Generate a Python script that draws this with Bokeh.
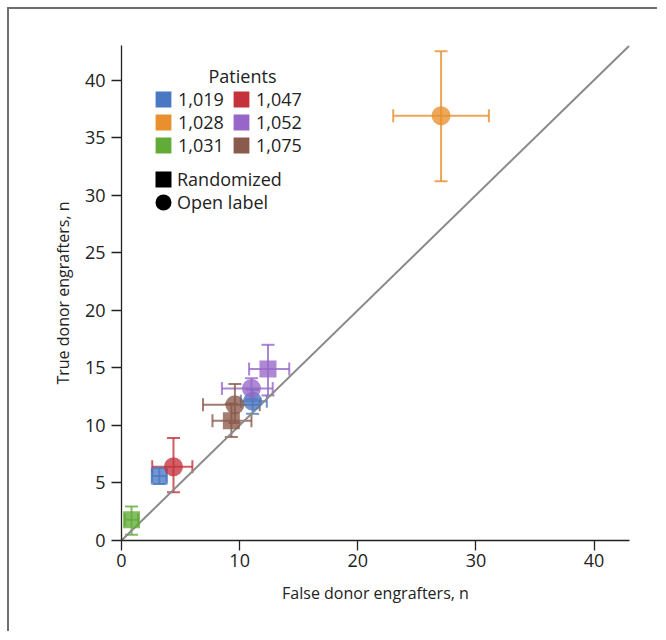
import math
from bokeh.plotting import figure
from bokeh.models import (ColumnDataSource, Whisker, TeeHead, Legend, LegendItem,
                          Label, FixedTicker, Range1d)
from bokeh.core.properties import field
from bokeh.embed import file_html
from bokeh.resources import INLINE

# ---------------- data ----------------
patients = ["1,019", "1,028", "1,031", "1,047", "1,052", "1,075"]
patient_colors = ["#4a78c2", "#e8902e", "#62ab37", "#c4323c", "#9766c8", "#8a5a4c"]
designs = ["Randomized", "Open label"]
design_markers = ["square", "circle"]

pt_patient = ["1,019", "1,019", "1,028", "1,031", "1,047", "1,052", "1,052", "1,075", "1,075"]
pt_design = ["Randomized", "Open label", "Open label", "Randomized", "Open label",
             "Randomized", "Open label", "Open label", "Randomized"]
false_n = [3.2, 11.1, 27.05, 0.85, 4.4, 12.4, 11.0, 9.6, 9.3]
false_lo = [2.6, 10.1, 23.0, 0.3, 2.6, 10.8, 8.5, 6.9, 7.7]
false_hi = [3.8, 12.3, 31.1, 1.4, 6.0, 14.2, 12.8, 11.7, 11.0]
true_n = [5.6, 12.1, 36.9, 1.8, 6.4, 14.9, 13.2, 11.8, 10.4]
true_lo = [4.9, 11.0, 31.2, 0.5, 4.2, 12.6, 12.3, 10.2, 9.0]
true_hi = [6.3, 13.1, 42.5, 2.95, 8.9, 17.0, 14.1, 13.6, 11.9]

x_ticks = [0, 10, 20, 30, 40]
y_ticks = [0, 5, 10, 15, 20, 25, 30, 35, 40]
axis_min, axis_max = 0, 43
diag = [0, 43]

x_title = "False donor engrafters, n"
y_title = "True donor engrafters, n"
legend_title = "Patients"

FONT = "Open Sans"
TXT = "#222222"
NAN = float("nan")

color_of = dict(zip(patients, patient_colors))
colors = [color_of[pp] for pp in pt_patient]

p = figure(width=650, height=624, x_range=Range1d(axis_min, axis_max),
           y_range=Range1d(axis_min, axis_max), output_backend="svg",
           toolbar_location=None, min_border_left=112, min_border_right=30,
           min_border_top=36, min_border_bottom=93)
p.styles = {"margin-left": "7px", "margin-top": "7px",
            "border-top": "2px solid #6e6e6e", "border-left": "2px solid #6e6e6e"}
p.grid.visible = False
p.outline_line_color = None
p.background_fill_color = "white"

for ax in (p.xaxis[0], p.yaxis[0]):
    ax.axis_line_color = "#222222"
    ax.axis_line_width = 1.3
    ax.major_tick_line_color = "#222222"
    ax.major_tick_line_width = 1.3
    ax.major_tick_out = 10
    ax.major_tick_in = 0
    ax.minor_tick_line_color = None
    ax.major_label_text_font = FONT
    ax.major_label_text_font_size = "18px"
    ax.major_label_text_color = TXT
    ax.axis_label_text_font = FONT
    ax.axis_label_text_font_size = "16px"
    ax.axis_label_text_font_style = "normal"
    ax.axis_label_text_color = TXT
p.xaxis[0].ticker = FixedTicker(ticks=x_ticks)
p.yaxis[0].ticker = FixedTicker(ticks=y_ticks)
p.xaxis[0].major_label_standoff = 3
p.yaxis[0].major_label_standoff = 6
p.xaxis[0].axis_label = x_title
p.yaxis[0].axis_label = y_title
p.xaxis[0].axis_label_standoff = 12
p.yaxis[0].axis_label_standoff = 8

# identity line
p.line(diag, diag, line_color="#8a8a8a", line_width=2)

src = ColumnDataSource(dict(x=false_n, xlo=false_lo, xhi=false_hi,
                            y=true_n, ylo=true_lo, yhi=true_hi, color=colors))

def head():
    return TeeHead(size=13, line_color=field("color"), line_width=2, line_alpha=0.8)

p.add_layout(Whisker(source=src, base="y", lower="xlo", upper="xhi", dimension="width",
                     line_color=field("color"), line_width=2, line_alpha=0.8,
                     upper_head=head(), lower_head=head()))
p.add_layout(Whisker(source=src, base="x", lower="ylo", upper="yhi", dimension="height",
                     line_color=field("color"), line_width=2, line_alpha=0.8,
                     upper_head=head(), lower_head=head()))

for d, m in zip(designs, design_markers):
    idx = [i for i, v in enumerate(pt_design) if v == d]
    s = ColumnDataSource(dict(x=[false_n[i] for i in idx], y=[true_n[i] for i in idx],
                              color=[colors[i] for i in idx]))
    p.scatter("x", "y", source=s, marker=m, size=19 if m == "circle" else 17,
              fill_color="color", fill_alpha=0.78, line_color=None)

# ---------- legend (one Legend per entry so each can be placed) ----------
def one_legend(label, renderer, x, y, gw):
    return Legend(items=[LegendItem(label=label, renderers=[renderer])], location=(x, y),
                  border_line_color=None, background_fill_alpha=0, padding=0, margin=0,
                  spacing=0, glyph_width=gw, glyph_height=24, label_standoff=4,
                  label_height=20, label_text_font=FONT, label_text_font_size="18px",
                  label_text_color=TXT)

# swatch grid: column-major, 3 rows x 2 cols (frame-relative screen px)
col_x = [31, 109]
row_y = [429, 406, 383]   # box bottoms
for k, (pat, c) in enumerate(zip(patients, patient_colors)):
    r = p.scatter(x=[NAN], y=[NAN], marker="square", size=1, fill_color=c, line_color=c,
                  line_width=7, line_join="miter")
    p.add_layout(one_legend(pat, r, col_x[k // 3], row_y[k % 3], 22))

shape_y = [349, 326]
for k, (d, m) in enumerate(zip(designs, design_markers)):
    r = p.scatter(x=[NAN], y=[NAN], marker=m, size=1, fill_color="black", line_color="black",
                  line_width=8, line_join="miter")
    p.add_layout(one_legend(d, r, 32, shape_y[k], 20))

p.add_layout(Label(x=121, y=465, x_units="screen", y_units="screen", text=legend_title,
                   text_align="center", text_baseline="middle", text_font=FONT,
                   text_font_size="18px", text_color=TXT))

open("out.html", "w").write(file_html(p, INLINE))
